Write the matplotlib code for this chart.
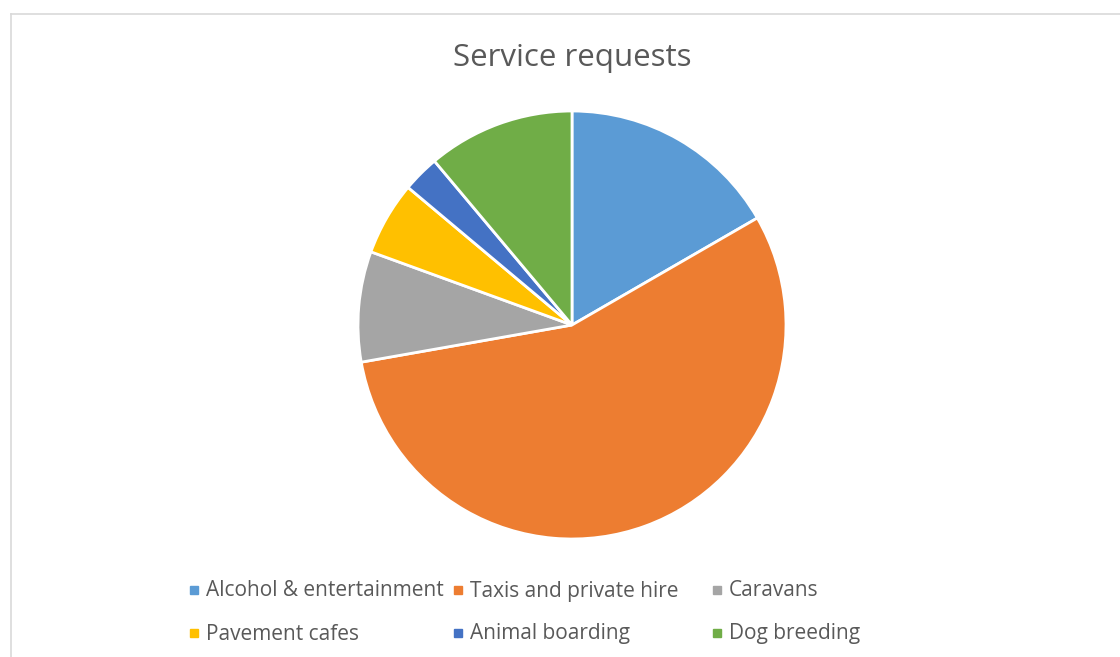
import matplotlib.pyplot as plt
from matplotlib.patches import Rectangle
from matplotlib.lines import Line2D

plt.rcParams['font.family'] = ['Open Sans', 'DejaVu Sans']

labels = ['Alcohol & entertainment', 'Taxis and private hire', 'Caravans',
          'Pavement cafes', 'Animal boarding', 'Dog breeding']
counts = [6, 20, 3, 2, 1, 4]
colors = ['#5B9BD5', '#ED7D31', '#A5A5A5', '#FFC000', '#4472C4', '#70AD47']

W, H = 1120, 657
fig = plt.figure(figsize=(W / 100, H / 100), dpi=100)

# light frame round the chart area (top and left visible)
fig.add_artist(Line2D([11 / W, 1], [1 - 14 / H, 1 - 14 / H], color='#D9D9D9', lw=1.2))
fig.add_artist(Line2D([11 / W, 11 / W], [0, 1 - 14 / H], color='#D9D9D9', lw=1.2))

cx, cy, r = 572, 325, 214
ax = fig.add_axes([(cx - r) / W, (H - cy - r) / H, 2 * r / W, 2 * r / H])
ax.pie(counts, colors=colors, startangle=90, counterclock=False,
       wedgeprops=dict(edgecolor='white', linewidth=2))
ax.set_xlim(-1.0, 1.0)
ax.set_ylim(-1.0, 1.0)
ax.set_aspect('equal')
ax.axis('off')

fig.text(572 / W, 1 - 58 / H, 'Service requests', ha='center', va='center',
         fontsize=22.5, color='#595959')

# legend, 3 equal-width columns like Excel
col_x = [190, 454, 713]
row_y = [590, 633]
for i, (lab, col) in enumerate(zip(labels, colors)):
    x = col_x[i % 3]
    y = row_y[i // 3]
    fig.add_artist(Rectangle(((x) / W, 1 - (y + 4) / H), 8 / W, 8 / H,
                             transform=fig.transFigure, color=col))
    fig.text((x + 16) / W, 1 - (y + 1) / H, lab, ha='left', va='center',
             fontsize=15, color='#595959')

fig.savefig('out.png', dpi=100)
